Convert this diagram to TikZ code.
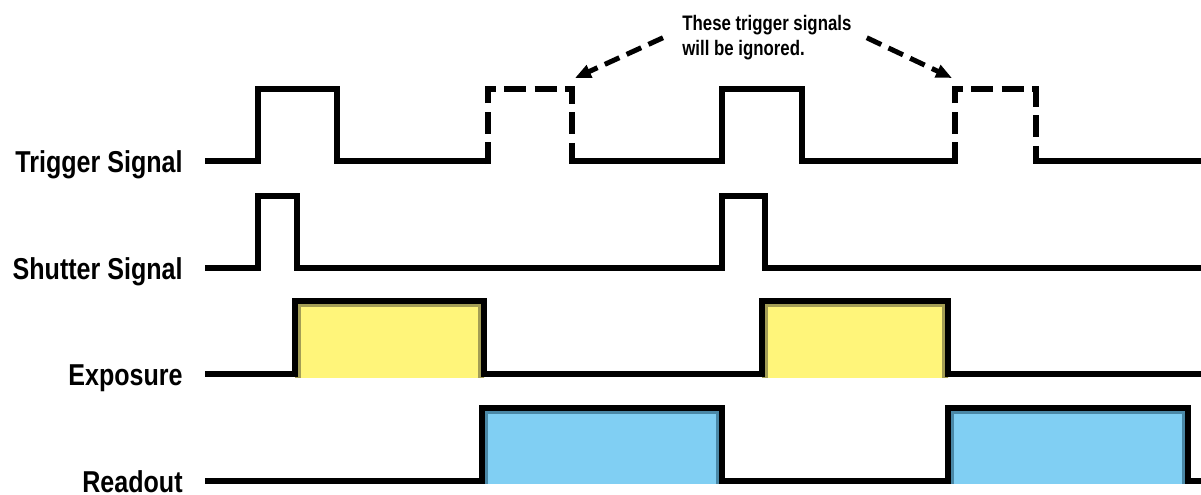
\documentclass[tikz,border=0pt]{standalone}
\usepackage{fontspec}
\setmainfont[FakeStretch=0.83]{Liberation Sans}
\newfontfamily\notefont[FakeStretch=0.8]{Liberation Sans}
\usetikzlibrary{arrows.meta}
\definecolor{expofill}{HTML}{FFF57A}
\definecolor{expoedge}{HTML}{A39D55}
\definecolor{readfill}{HTML}{80CFF3}
\definecolor{readedge}{HTML}{4A88A6}

\begin{document}
\begin{tikzpicture}[x=0.5pt, y=-0.5pt,
    wave/.style={line width=3pt, line join=miter},
    ghost/.style={wave, dash pattern=on 11pt off 4.2pt},
    band/.style={line width=6pt},
    hint/.style={line width=2.5pt, dash pattern=on 8pt off 4pt, -{Triangle[length=8pt,width=6.5pt]}},
    siglabel/.style={anchor=base east, inner sep=0pt, font=\bfseries\fontsize{15.1}{18}\selectfont}]

    \useasboundingbox (0,0) rectangle (1201,494);

    \node[siglabel] (trig) at (183,172) {Trigger Signal};
    \node[siglabel] (shut) at (183,279) {Shutter Signal};
    \node[siglabel] (expo) at (183,385) {Exposure};
    \node[siglabel] (read) at (183,492) {Readout};

    % filled pulses
    \foreach \a/\b in {295/484, 762/948} {
        \begin{scope}
            \clip (\a,378) rectangle (\b,301);
            \fill[expofill] (\a,378) rectangle (\b,301);
            \draw[band, expoedge] (\a,378) |- (\b,301) -- (\b,378);
        \end{scope}
    }
    \foreach \a/\b in {482/722, 948/1188} {
        \begin{scope}
            \clip (\a,484) rectangle (\b,408);
            \fill[readfill] (\a,484) rectangle (\b,408);
            \draw[band, readedge] (\a,484) |- (\b,408) -- (\b,484);
        \end{scope}
    }

    % trigger
    \draw[wave] (205,161) -| (258,89) -| (337,161) -- (488,161);
    \draw[ghost] (488,164) |- (572,89) -- (572,164);
    \draw[wave] (572,161) -| (722,89) -| (802,161) -- (955,161);
    \draw[ghost] (955,164) |- (1036,89) -- (1036,164);
    \draw[wave] (1036,161) -- (1201,161);

    % shutter, exposure, readout
    \draw[wave] (205,268) -| (258,196) -| (297,268) -| (722,196) -| (765,268) -- (1201,268);
    \draw[wave] (205,374) -| (295,301) -| (484,374) -| (762,301) -| (948,374) -- (1201,374);
    \draw[wave] (205,481) -| (482,408) -| (722,481) -| (948,408) -| (1188,481) -- (1201,481);

    \node[anchor=north west, inner sep=0pt, align=left,
          font=\notefont\bfseries\fontsize{10.5}{12.5}\selectfont] (note) at (682,15)
          {These trigger signals\\will be ignored.};
    \coordinate (ignA) at (575,78);
    \coordinate (ignB) at (952,78);
    \draw[hint] ([xshift=-9.5pt]note.west) -- (ignA);
    \draw[hint] ([xshift=7.5pt]note.east) -- (ignB);

\end{tikzpicture}
\end{document}
